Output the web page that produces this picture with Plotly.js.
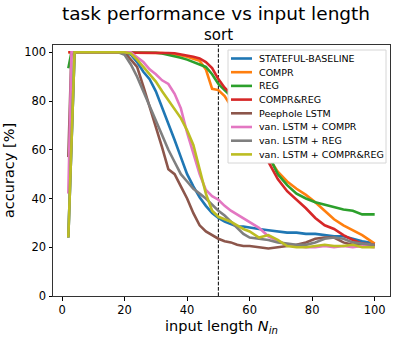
<!DOCTYPE html>
<html>
<head>
<meta charset="utf-8">
<script src="https://cdn.plot.ly/plotly-3.0.1.min.js"></script>
<style>
  html, body { margin: 0; padding: 0; background: #fff; }
  #chart { width: 397px; height: 341px; }
</style>
</head>
<body>
<div id="chart"></div>
<script>
// input lengths shared by all runs
const inputLength = [2, 3, 4, 8, 12, 16, 18, 20, 22, 24, 26, 28, 30, 32, 34, 36, 38, 40, 42, 44, 46, 48, 50,
    52, 54, 56, 58, 60, 63, 66, 69, 72, 75, 78, 81, 84, 87, 90, 93, 96, 100];

// accuracy [%] per model
const statefulBaseline = [24, 62, 100, 100, 100, 100, 100, 100, 99, 96, 92, 89, 84, 77.5, 71, 64, 57, 50, 45, 40.5, 37, 34, 32,
    30.5, 29.5, 28.5, 28.5, 28, 27.5, 27, 26.5, 26, 26, 25.5, 25.5, 25, 24.5, 24.5, 23.5, 22.5, 21.5];
const compr = [100, 100, 100, 100, 100, 100, 100, 100, 100, 100, 100, 100, 100, 99.7, 99.5, 99.2, 98.8, 98.2, 97.5, 96.5, 93, 85, 84.5,
    82, 78, 75, 71, 68, 63, 57, 51, 47, 44, 41.5, 38.5, 35, 31.5, 29, 27, 25, 21.5];
const reg = [93.5, 100, 100, 100, 100, 100, 100, 100, 100, 100, 100, 100, 99.8, 99.5, 99, 98.5, 97.8, 97, 96, 95, 94, 91, 87,
    84.5, 82, 78, 74, 70, 64, 58, 50, 45.5, 42, 40, 38.5, 37.5, 36.5, 35.5, 35, 33.5, 33.5];
const comprReg = [100, 100, 100, 100, 100, 100, 100, 100, 100, 100, 100, 100, 100, 99.8, 99.7, 99.6, 99.2, 98.8, 98.2, 97.5, 96, 93.5, 89,
    85.5, 83, 79, 74, 69, 62, 55, 48, 43, 39.5, 36, 32, 29, 27.5, 25, 23, 21.5, 21];
const peephole = [57, 100, 100, 100, 100, 100, 100, 100, 97, 94, 86, 78, 69, 61, 52, 50, 45, 40, 34, 29, 26.5, 25, 23.5,
    22.5, 22, 21, 20.5, 20.5, 20, 19.5, 20, 20.5, 21, 22, 23.5, 24, 24, 22, 21, 21, 20.5];
const vanCompr = [42, 100, 100, 100, 100, 100, 100, 100, 100, 98, 96, 93, 91, 88.5, 87, 83, 77, 67, 58, 50, 43.5, 41, 39.5,
    37, 35, 33.5, 32, 30.5, 28, 24.5, 22.5, 21, 20.5, 20, 20, 20.5, 20, 20.5, 20, 20.5, 20];
const vanReg = [24, 62, 100, 100, 100, 100, 100, 99, 95, 90, 84, 78, 72, 66, 60, 55, 50, 47, 44, 42, 40, 37.5, 35,
    33, 30.5, 28, 25.5, 24, 23.5, 23, 22, 21.5, 21, 21, 22, 23.5, 24, 23.5, 22, 21.5, 21];
const vanComprReg = [24, 62, 100, 100, 100, 100, 100, 100, 99.5, 97, 94, 91, 88, 84, 80.5, 77, 73, 68, 62, 52, 42, 35, 32.5,
    31.5, 30.5, 29, 27.5, 26.5, 24, 25, 23, 20.5, 20, 20, 20.5, 21, 20.5, 20.5, 21, 20, 20];

const seriesNames = ['STATEFUL-BASELINE', 'COMPR', 'REG', 'COMPR&REG', 'Peephole LSTM',
    'van. LSTM + COMPR', 'van. LSTM + REG', 'van. LSTM + COMPR&REG'];
const seriesValues = [statefulBaseline, compr, reg, comprReg, peephole, vanCompr, vanReg, vanComprReg];
const colors = ['#1f77b4', '#ff7f0e', '#2ca02c', '#d62728', '#8c564b', '#e377c2', '#7f7f7f', '#bcbd22'];

const xTicks = [0, 20, 40, 60, 80, 100];
const yTicks = [0, 20, 40, 60, 80, 100];
const trainLength = 50;

const traces = seriesNames.map((name, i) => ({
    x: inputLength,
    y: seriesValues[i],
    type: 'scatter',
    mode: 'lines',
    name: name,
    line: { color: colors[i], width: 2.6 }
}));

// plot area in pixels, used to place the hand-made legend (plotly's own is too tall here)
const W = 397, H = 341;
const margin = { l: 53, r: 7, t: 45, b: 45 };
const plotW = W - margin.l - margin.r;
const plotH = H - margin.t - margin.b;
const px = v => (v - margin.l) / plotW;
const py = v => 1 - (v - margin.t) / plotH;

const font = 'DejaVu Sans, sans-serif';

const legendShapes = [{
    type: 'rect', xref: 'paper', yref: 'paper',
    x0: px(228), x1: px(386), y0: py(163), y1: py(50),
    fillcolor: '#fff', line: { color: '#d6d6d6', width: 1 }, layer: 'above'
}];
const legendNotes = [];
seriesNames.forEach((name, i) => {
    const yc = 58.5 + i * 13.7;
    legendShapes.push({
        type: 'line', xref: 'paper', yref: 'paper',
        x0: px(231), x1: px(252), y0: py(yc), y1: py(yc),
        line: { color: colors[i], width: 2.6 }, layer: 'above'
    });
    legendNotes.push({
        text: name, xref: 'paper', yref: 'paper',
        x: px(257), y: py(yc), xanchor: 'left', yanchor: 'middle', showarrow: false,
        font: { family: font, size: 9.5, color: '#000' }
    });
});

const layout = {
    width: W,
    height: H,
    margin: margin,
    paper_bgcolor: '#fff',
    plot_bgcolor: '#fff',
    font: { family: font, color: '#000', size: 11 },
    showlegend: false,
    xaxis: {
        range: [-2.9, 104.9],
        tickvals: xTicks,
        ticks: 'outside', ticklen: 3.5, tickcolor: '#000',
        showgrid: false, zeroline: false,
        showline: true, mirror: true, linecolor: '#333', linewidth: 1,
        tickfont: { size: 11.5 },
        title: { text: 'input length <i>N</i><sub><i>in</i></sub>', font: { size: 14.5 }, standoff: 4 }
    },
    yaxis: {
        range: [0, 103],
        tickvals: yTicks,
        ticks: 'outside', ticklen: 3.5, tickcolor: '#000',
        showgrid: false, zeroline: false,
        showline: true, mirror: true, linecolor: '#333', linewidth: 1,
        tickfont: { size: 11.5 },
        title: { text: 'accuracy [%]', font: { size: 14.5 }, standoff: 6 }
    },
    shapes: [{
        type: 'line', xref: 'x', yref: 'paper',
        x0: trainLength, x1: trainLength, y0: 0, y1: 1,
        line: { color: '#000', width: 1, dash: '3.7px,1.6px' },
        layer: 'below'
    }].concat(legendShapes),
    annotations: [
        {
            text: 'task performance vs input length', xref: 'paper', yref: 'paper',
            x: 0.485, y: 1.124, xanchor: 'center', yanchor: 'middle', showarrow: false,
            font: { family: font, size: 18.5, color: '#000' }
        },
        {
            text: 'sort', xref: 'paper', yref: 'paper',
            x: 0.49, y: 1.038, xanchor: 'center', yanchor: 'middle', showarrow: false,
            font: { family: font, size: 15, color: '#000' }
        }
    ].concat(legendNotes)
};

Plotly.newPlot('chart', traces, layout, { displayModeBar: false, staticPlot: true });
</script>
</body>
</html>
